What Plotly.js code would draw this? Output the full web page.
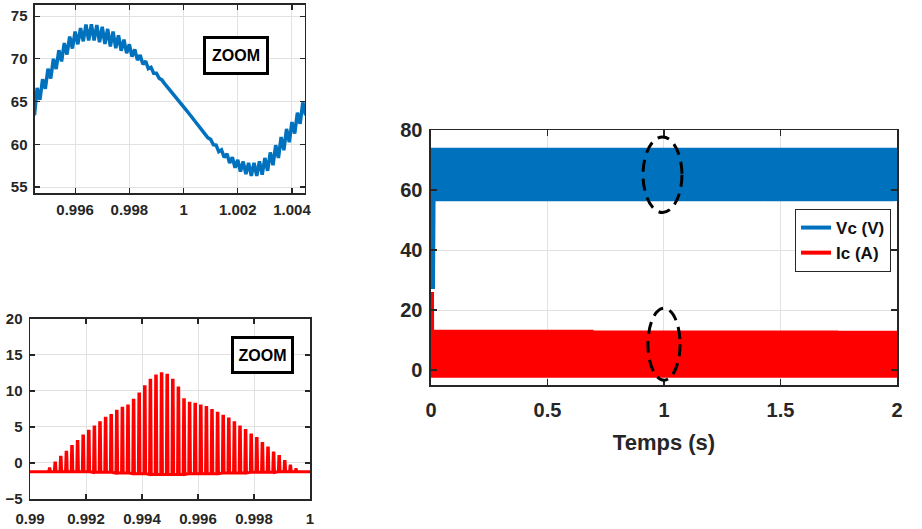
<!DOCTYPE html>
<html><head><meta charset="utf-8">
<script src="https://cdn.plot.ly/plotly-3.0.1.min.js"></script>
<style>html,body{margin:0;padding:0;background:#fff}#chart{width:922px;height:529px}</style>
</head><body><div id="chart"></div>
<script>
// ---- Vc zoom (top-left): ripple teeth, lower value at each tooth and upper value half a tooth later ----
const vcT = [0.9945,0.9947,0.9949,0.9951,0.9953,0.9955,0.9957,0.9959,0.9961,0.9963,
  0.9965,0.9967,0.9969,0.9971,0.9973,0.9975,0.9977,0.9979,0.9981,0.9983,
  0.9985,0.9987,0.9989,0.9991,0.9993,0.9995,0.9997,0.9999,1.0001,1.0003,
  1.0005,1.0007,1.0009,1.0011,1.0013,1.0015,1.0017,1.0019,1.0021,1.0023,
  1.0025,1.0027,1.0029,1.0031,1.0033,1.0035,1.0037,1.0039,1.0041,1.0043,1.0045];
const vcLow = [63.4,65.2,66.5,67.7,68.8,69.7,70.5,71.2,71.7,72.05,
  72.15,72.15,71.95,71.75,71.45,71.25,70.95,70.65,70.25,69.85,
  69.35,68.85,68.3,67.72,67.1,66.35,65.6,64.8,64.0,63.2,
  62.4,61.55,60.75,59.95,59.15,58.45,57.8,57.25,56.8,56.5,
  56.3,56.3,56.45,56.9,57.55,58.4,59.3,60.25,61.25,62.4,63.4];
const vcHigh = [66.6,67.6,68.85,70.0,71.0,71.85,72.6,73.2,73.6,74.0,
  74.05,73.95,73.75,73.5,73.2,72.75,72.25,71.7,71.1,70.45,
  69.75,69.0,68.3,67.53,66.73,65.98,65.2,64.4,63.6,62.8,
  62.0,61.28,60.58,59.9,59.35,58.88,58.48,58.18,57.98,57.83,
  57.83,58.0,58.4,59.05,59.9,60.85,61.8,62.6,63.7,64.9,66.6];

// ---- Ic zoom (bottom-left): current pulses, peak and foot of each pulse ----
const icT = [0.9907,0.9909,0.9911,0.9913,0.9915,0.9917,0.9919,0.9921,0.9923,0.9925,
  0.9927,0.9929,0.9931,0.9933,0.9935,0.9937,0.9939,0.9941,0.9943,0.9945,
  0.9947,0.9949,0.9951,0.9953,0.9955,0.9957,0.9959,0.9961,0.9963,0.9965,
  0.9967,0.9969,0.9971,0.9973,0.9975,0.9977,0.9979,0.9981,0.9983,0.9985,
  0.9987,0.9989,0.9991,0.9993,0.9995];
const icPeak = [-0.8,0.0,0.8,1.5,2.3,3.0,3.75,4.4,5.0,5.6,
  6.2,6.6,7.2,7.6,7.9,8.7,9.6,10.6,11.5,12.1,
  12.4,12.2,11.5,10.4,8.8,8.3,8.15,7.9,7.7,7.3,
  6.9,6.5,6.1,5.6,5.0,4.5,3.9,3.4,2.7,2.1,
  1.4,0.9,0.2,-0.4,-0.9];
const icLow = [-1.2,-1.2,-1.2,-1.2,-1.2,-1.2,-1.2,-1.2,-1.3,-1.3,
  -1.3,-1.3,-1.4,-1.4,-1.4,-1.5,-1.5,-1.5,-1.6,-1.6,
  -1.6,-1.6,-1.6,-1.6,-1.6,-1.5,-1.5,-1.5,-1.5,-1.5,
  -1.5,-1.4,-1.4,-1.4,-1.4,-1.4,-1.3,-1.3,-1.3,-1.3,
  -1.3,-1.2,-1.2,-1.2,-1.2];
const icBase = [-1.2, -1.2];     // baseline at the start / end of the zoom window
const icWindow = [0.99, 1.0];    // zoom window (one period)

// ---- Full simulation (right): start-up transient, then the periodic regime ----
const vcStartT = [0, 0.003];
const vcStartV = [27, 63];
const icStartT = [0, 0.0005];
const icStartV = [26, 12];
const period = 0.01;             // period seen in the zooms
const simEnd = 2;

// ---- Tick labels ----
const vcZoomTicks = [0.996, 0.998, 1, 1.002, 1.004];
const vcZoomTickText = ['0.996', '0.998', '1', '1.002', '1.004'];
const vcZoomYTicks = [55, 60, 65, 70, 75];
const icZoomTicks = [0.99, 0.992, 0.994, 0.996, 0.998, 1];
const icZoomTickText = ['0.99', '0.992', '0.994', '0.996', '0.998', '1'];
const icZoomYTicks = [-5, 0, 5, 10, 15, 20];
const fullXTicks = [0, 0.5, 1, 1.5, 2];
const fullXTickText = ['0', '0.5', '1', '1.5', '2'];
const fullYTicks = [0, 20, 40, 60, 80];
const seriesNames = ['Vc (V)', 'Ic (A)'];
const xTitle = 'Temps (s)';
const zoomLabel = 'ZOOM';

// ================= build traces =================
const BLUE = '#0072BD', RED = '#FF0000', INK = '#262626', GRID = '#e2e2e2';
const FONT = 'Liberation Sans, Arial, Helvetica, sans-serif';

// Vc zoom: lower point at tooth time, upper point half a tooth later
const HALF = 0.0001;
const vcZx = [], vcZy = [];
for (let i = 0; i < vcT.length; i++) {
  vcZx.push(vcT[i]); vcZy.push(vcLow[i]);
  vcZx.push(vcT[i] + HALF); vcZy.push(vcHigh[i]);
}
// Ic zoom: narrow flat-topped pulses
const W = 0.00003, W2 = 0.00001;
const icZx = [icWindow[0]], icZy = [icBase[0]];
for (let i = 0; i < icT.length; i++) {
  icZx.push(icT[i] - W, icT[i] - W2, icT[i] + W2, icT[i] + W);
  icZy.push(icLow[i], icPeak[i], icPeak[i], icLow[i]);
}
icZx.push(icWindow[1]); icZy.push(icBase[1]);

// Full run: repeat the zoomed period over the simulation time
function tile(xs, ys, startX, startY, cycleStart, drop) {
  const ox = startX.slice(), oy = startY.slice();
  const tFirst = startX[startX.length - 1];
  const n = xs.length - drop;
  for (let k = -Math.ceil(cycleStart / period); ; k++) {
    const off = k * period;
    if (xs[0] + off > simEnd) break;
    for (let i = 0; i < n; i++) {
      const t = xs[i] + off;
      if (t <= tFirst) continue;
      if (t > simEnd + period) break;
      ox.push(t); oy.push(ys[i]);
    }
  }
  return [ox, oy];
}
const vcCycleX = vcZx.slice(0, 100), vcCycleY = vcZy.slice(0, 100);
const [vcFx, vcFy] = tile(vcCycleX, vcCycleY, vcStartT, vcStartV, vcT[0], 0);
const [icFx, icFy] = tile(icZx, icZy, icStartT, icStartV, icWindow[0], 1);

const traces = [
  {x: vcZx, y: vcZy, xaxis: 'x', yaxis: 'y', mode: 'lines', line: {color: BLUE, width: 3.5}, showlegend: false, hoverinfo: 'skip'},
  {x: icZx, y: icZy, xaxis: 'x2', yaxis: 'y2', mode: 'lines', line: {color: RED, width: 3}, showlegend: false, hoverinfo: 'skip'},
  {x: vcFx, y: vcFy, xaxis: 'x3', yaxis: 'y3', mode: 'lines', name: seriesNames[0], line: {color: BLUE, width: 8, simplify: false}, showlegend: false, hoverinfo: 'skip'},
  {x: icFx, y: icFy, xaxis: 'x3', yaxis: 'y3', mode: 'lines', name: seriesNames[1], line: {color: RED, width: 6, simplify: false}, showlegend: false, hoverinfo: 'skip'},
  // legend entries (no data of their own)
  {x: [null], y: [null], xaxis: 'x3', yaxis: 'y3', mode: 'lines', name: seriesNames[0], line: {color: BLUE, width: 4}, hoverinfo: 'skip'},
  {x: [null], y: [null], xaxis: 'x3', yaxis: 'y3', mode: 'lines', name: seriesNames[1], line: {color: RED, width: 4}, hoverinfo: 'skip'}
];

function ax(extra, size) {
  return Object.assign({
    showgrid: true, gridcolor: GRID, gridwidth: 1, zeroline: false,
    showline: true, linecolor: INK, linewidth: 1.5, mirror: 'ticks',
    ticks: 'inside', ticklen: 5, tickwidth: 1.2, tickcolor: INK,
    tickfont: {family: FONT, size: size, weight: 'bold', color: INK},
    fixedrange: true
  }, extra);
}

const layout = {
  width: 922, height: 529, autosize: false,
  margin: {l: 0, r: 0, t: 0, b: 0},
  paper_bgcolor: '#fff', plot_bgcolor: '#fff',
  xaxis: ax({domain: [0.03796, 0.33080], anchor: 'y', range: [0.99452, 1.00448], tickmode: 'array', tickvals: vcZoomTicks, ticktext: vcZoomTickText, ticklabelstandoff: 2}, 15),
  yaxis: ax({domain: [0.63516, 0.99055], anchor: 'x', range: [54.3, 76.3], tickmode: 'array', tickvals: vcZoomYTicks, ticklabelstandoff: 3}, 15),
  xaxis2: ax({domain: [0.03254, 0.33623], anchor: 'y2', range: [0.99, 1.0], tickmode: 'array', tickvals: icZoomTicks, ticktext: icZoomTickText, ticklabelstandoff: 5}, 15),
  yaxis2: ax({domain: [0.05671, 0.39698], anchor: 'x2', range: [-5, 20], tickmode: 'array', tickvals: icZoomYTicks, ticklabelstandoff: 3}, 15),
  xaxis3: ax({domain: [0.46746, 0.97289], anchor: 'y3', range: [0, 2], tickmode: 'array', tickvals: fullXTicks, ticktext: fullXTickText, ticklen: 6, ticklabelstandoff: 6,
    title: {text: xTitle, font: {family: FONT, size: 22, weight: 'bold', color: INK}, standoff: 15}}, 20),
  yaxis3: ax({domain: [0.27221, 0.75425], anchor: 'x3', range: [-5, 80], tickmode: 'array', tickvals: fullYTicks, ticklen: 6, ticklabelstandoff: 3}, 20),
  legend: {x: 0.8623, y: 0.6049, xanchor: 'left', yanchor: 'top', bgcolor: '#fff', bordercolor: INK, borderwidth: 1,
    font: {family: FONT, size: 17, weight: 'bold', color: '#111'}, itemwidth: 30, tracegroupgap: 0},
  shapes: [
    {type: 'circle', xref: 'x3', yref: 'y3', x0: 0.91, x1: 1.077, y0: 52.5, y1: 77.7, line: {color: '#000', width: 3, dash: '12px,7px'}},
    {type: 'circle', xref: 'x3', yref: 'y3', x0: 0.931, x1: 1.069, y0: -3.4, y1: 20.6, line: {color: '#000', width: 3, dash: '12px,7px'}}
  ],
  annotations: [
    {xref: 'paper', yref: 'paper', x: 0.2565, y: 0.896, xanchor: 'center', yanchor: 'middle', showarrow: false, text: zoomLabel,
      font: {family: FONT, size: 16, weight: 'bold', color: '#000'}, bordercolor: '#000', borderwidth: 3, borderpad: 3, bgcolor: '#fff', width: 54, height: 27},
    {xref: 'paper', yref: 'paper', x: 0.2842, y: 0.328, xanchor: 'center', yanchor: 'middle', showarrow: false, text: zoomLabel,
      font: {family: FONT, size: 16, weight: 'bold', color: '#000'}, bordercolor: '#000', borderwidth: 3, borderpad: 3, bgcolor: '#fff', width: 51, height: 26}
  ]
};

Plotly.newPlot('chart', traces, layout, {displayModeBar: false, staticPlot: true});
</script>
</body></html>
